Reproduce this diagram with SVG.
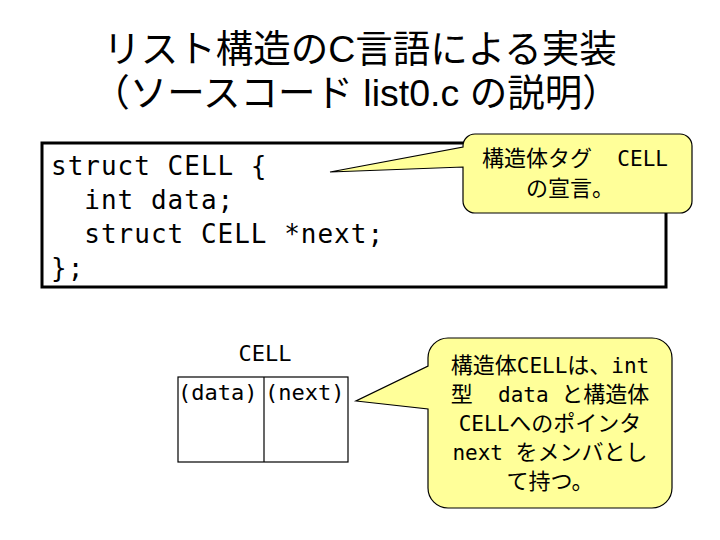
<svg xmlns="http://www.w3.org/2000/svg" width="720" height="540" viewBox="0 0 720 540">
<style>
.title{font-family:"Liberation Sans","Noto Sans CJK JP",sans-serif;font-size:37.5px;fill:#000;text-anchor:middle}
.code{font-family:"DejaVu Sans Mono","Liberation Mono",monospace;font-size:26px;letter-spacing:1px;fill:#000;white-space:pre}
.jp{font-family:"Noto Sans CJK JP",sans-serif;font-size:22px;fill:#000;text-anchor:middle;white-space:pre}
.mono{font-family:"DejaVu Sans Mono","Liberation Mono",monospace;font-size:21px}
.cell{font-family:"DejaVu Sans Mono","Liberation Mono",monospace;font-size:22px;fill:#000}
.callout{fill:#FFFF99;stroke:#000;stroke-width:1.2}
</style>
<rect width="720" height="540" fill="#fff"/>
<g id="title">
<text class="title" x="360" y="62">リスト構造のC言語による実装</text>
<text class="title" x="356" y="106">（ソースコード list0.c の説明）</text>
</g>
<g id="code">
<rect x="42" y="143" width="624" height="144" fill="#fff" stroke="#000" stroke-width="3"/>
<text class="code" x="51" y="175">struct CELL {</text>
<text class="code" x="51" y="209">  int data;</text>
<text class="code" x="51" y="243">  struct CELL *next;</text>
<text class="code" x="51" y="277">};</text>
</g>
<g id="callout1">
<path class="callout" d="M475,134 H680 A12,12 0 0 1 692,146 V201 A12,12 0 0 1 680,213 H475 A12,12 0 0 1 463,201 V167 L330,172 L463,147 V146 A12,12 0 0 1 475,134 Z"/>
<text class="jp" x="575" y="166">構造体タグ<tspan class="mono">  CELL</tspan></text>
<text class="jp" x="570" y="196">の宣言。</text>
</g>
<g id="cell">
<text class="cell" x="265" y="361" text-anchor="middle">CELL</text>
<rect x="178" y="377" width="170" height="85" fill="#fff" stroke="#000" stroke-width="1.2"/>
<line x1="264" y1="377" x2="264" y2="462" stroke="#000" stroke-width="1.2"/>
<text class="cell" x="178" y="400">(data)</text>
<text class="cell" x="265" y="400">(next)</text>
</g>
<g id="callout2">
<path class="callout" d="M448,338 H652 A20,20 0 0 1 672,358 V488 A20,20 0 0 1 652,508 H448 A20,20 0 0 1 428,488 V409 L356,401 L428,366 V358 A20,20 0 0 1 448,338 Z"/>
<text class="jp" x="550" y="373">構造体<tspan class="mono">CELL</tspan>は、<tspan class="mono">int</tspan></text>
<text class="jp" x="550" y="402">型<tspan class="mono">  data </tspan>と構造体</text>
<text class="jp" x="550" y="431"><tspan class="mono">CELL</tspan>へのポインタ</text>
<text class="jp" x="550" y="460"><tspan class="mono">next </tspan>をメンバとし</text>
<text class="jp" x="550" y="489">て持つ。</text>
</g>
</svg>
